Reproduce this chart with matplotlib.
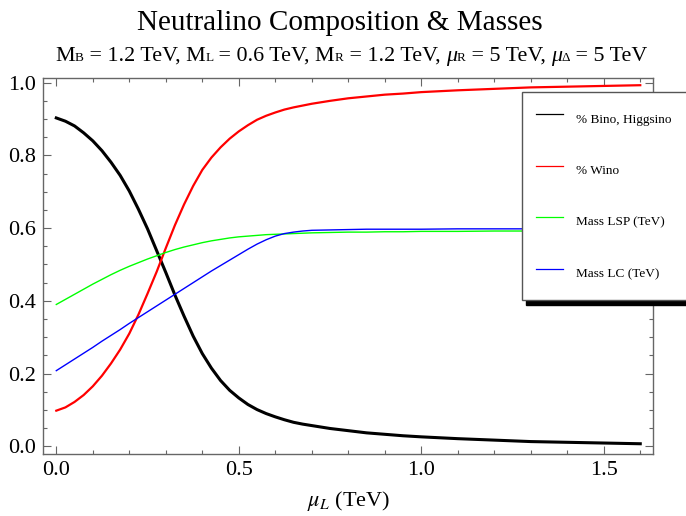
import matplotlib
matplotlib.use("Agg")
from matplotlib import pyplot as plt
from matplotlib.lines import Line2D
from matplotlib.ticker import MultipleLocator

plt.rcParams['font.family'] = 'serif'
plt.rcParams['font.serif'] = ['Liberation Serif', 'DejaVu Serif']
plt.rcParams['mathtext.fontset'] = 'stix'

# mu_L in TeV
mu_L = [0.000, 0.025, 0.050, 0.075, 0.100, 0.125, 0.150, 0.175, 0.200, 0.225,
        0.250, 0.275, 0.300, 0.325, 0.350, 0.375, 0.400, 0.425, 0.450, 0.475,
        0.500, 0.525, 0.550, 0.575, 0.600, 0.625, 0.650, 0.675, 0.700,
        0.75, 0.80, 0.85, 0.90, 0.95, 1.00, 1.10, 1.20, 1.30, 1.40, 1.50, 1.60]

bino_higgsino = [0.903, 0.894, 0.881, 0.862, 0.840, 0.813, 0.781, 0.745, 0.702, 0.652,
                 0.598, 0.538, 0.478, 0.416, 0.358, 0.303, 0.255, 0.215, 0.181, 0.154,
                 0.133, 0.115, 0.101, 0.090, 0.081, 0.073, 0.066, 0.061, 0.057,
                 0.049, 0.043, 0.037, 0.033, 0.029, 0.026, 0.021, 0.017, 0.013, 0.011, 0.009, 0.007]
wino = [0.098, 0.107, 0.122, 0.141, 0.165, 0.194, 0.228, 0.266, 0.310, 0.362,
        0.420, 0.480, 0.545, 0.608, 0.665, 0.716, 0.760, 0.794, 0.822, 0.846,
        0.866, 0.883, 0.898, 0.909, 0.918, 0.926, 0.932, 0.937, 0.942,
        0.950, 0.957, 0.962, 0.967, 0.970, 0.974, 0.979, 0.983, 0.987, 0.989, 0.991, 0.993]
mass_lsp = [0.390, 0.404, 0.418, 0.432, 0.446, 0.459, 0.472, 0.484, 0.495, 0.505,
            0.515, 0.524, 0.533, 0.541, 0.548, 0.554, 0.560, 0.565, 0.569, 0.573,
            0.576, 0.578, 0.580, 0.582, 0.583, 0.584, 0.585, 0.586, 0.587,
            0.588, 0.589, 0.589, 0.590, 0.590, 0.591, 0.591, 0.592, 0.592, 0.592, 0.592, 0.592]
mass_lc = [0.208, 0.224, 0.240, 0.256, 0.272, 0.289, 0.305, 0.321, 0.338, 0.354,
           0.370, 0.386, 0.402, 0.418, 0.434, 0.450, 0.466, 0.482, 0.497, 0.512,
           0.527, 0.542, 0.556, 0.568, 0.578, 0.585, 0.589, 0.592, 0.594,
           0.595, 0.596, 0.597, 0.597, 0.597, 0.597, 0.598, 0.598, 0.598, 0.598, 0.598, 0.598]

labels = ['% Bino, Higgsino', '% Wino', 'Mass LSP (TeV)', 'Mass LC (TeV)']
colors = ['black', 'red', '#00ff00', 'blue']

W, H = 686, 516
fig = plt.figure(figsize=(W / 100, H / 100), dpi=100)
ax = fig.add_axes([43.3 / W, 1 - 454.3 / H, 610.1 / W, 376 / H])

ax.plot(mu_L, bino_higgsino, color=colors[0], lw=2.2)
ax.plot(mu_L, wino, color=colors[1], lw=1.6)
ax.plot(mu_L, mass_lsp, color=colors[2], lw=1.0)
ax.plot(mu_L, mass_lc, color=colors[3], lw=1.0)

ax.set_xlim(-0.0356, 1.636)
ax.set_ylim(-0.022, 1.012)
ax.xaxis.set_major_locator(MultipleLocator(0.5))
ax.xaxis.set_minor_locator(MultipleLocator(0.1))
ax.yaxis.set_major_locator(MultipleLocator(0.2))
ax.yaxis.set_minor_locator(MultipleLocator(0.05))
ax.xaxis.set_major_formatter(lambda v, p: '%.1f' % v)
ax.yaxis.set_major_formatter(lambda v, p: '%.1f' % v)
for s in ax.spines.values():
    s.set_color('#666666')
    s.set_linewidth(1.0)
ax.tick_params(which='both', direction='in', top=True, right=True,
               color='#666666', width=0.8, labelsize=16, labelcolor='black')
ax.tick_params(which='major', length=5.5, pad=5)
ax.tick_params(which='minor', length=2.8)

ax.set_xlabel(r'$\mu_L$ (TeV)', fontsize=16, labelpad=6)

# legend, sticking out past the right edge like the original
handles = [Line2D([], [], color=c, lw=0.9) for c in colors]
ax.legend(handles, labels, loc='upper left',
          bbox_to_anchor=(521.7 / W, 0.4, 200 / W, 1 - 91.7 / H - 0.4),
          bbox_transform=fig.transFigure, mode='expand', borderaxespad=0,
          fontsize=9.5, borderpad=1.08, handleheight=2.6, labelspacing=1.96,
          handlelength=2.05, handletextpad=0.98, fancybox=False, framealpha=1,
          edgecolor='#555555',
          shadow={'ox': 3, 'oy': -3.5, 'facecolor': 'black',
                  'edgecolor': 'black', 'alpha': 1})
ax.get_legend().get_frame().set_linewidth(1.0)

# titles
fig.text(340 / W, 1 - 29.5 / H, 'Neutralino Composition & Masses',
         fontsize=21, ha='center', va='baseline')

renderer = fig.canvas.get_renderer()


def piece_width(s, size, style):
    a = fig.text(0, 0, '|' + s + '|', fontsize=size, style=style)
    b = fig.text(0, 0, '||', fontsize=size, style=style)
    w = a.get_window_extent(renderer).width - b.get_window_extent(renderer).width
    a.remove()
    b.remove()
    return w


big, small = 15.8, 9.5
pieces = [('M', big, 'normal'), ('B', small, 'normal'), (' = 1.2 TeV, M', big, 'normal'),
          ('L', small, 'normal'), (' = 0.6 TeV, M', big, 'normal'), ('R', small, 'normal'),
          (' = 1.2 TeV, ', big, 'normal'), ('\u03bc', big, 'italic'), ('R', small, 'normal'),
          (' = 5 TeV, ', big, 'normal'), ('\u03bc', big, 'italic'), ('\u0394', small, 'normal'),
          (' = 5 TeV', big, 'normal')]
x = 55.0
for s, size, style in pieces:
    fig.text(x / W, 1 - 61 / H, s, fontsize=size, style=style, va='baseline', ha='left')
    x += piece_width(s, size, style)

fig.savefig('out.png', dpi=100)
